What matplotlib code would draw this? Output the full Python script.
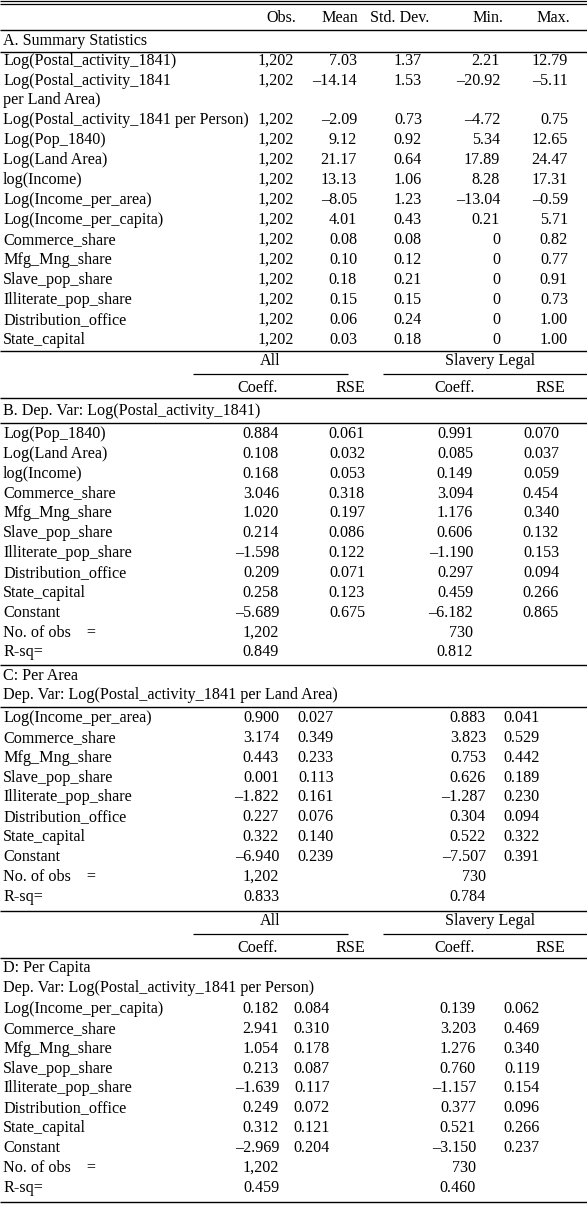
import matplotlib
matplotlib.use("Agg")
import matplotlib.pyplot as plt

W, H = 587, 1207
FS = 11.6
plt.rcParams['font.family'] = ['Liberation Serif', 'DejaVu Serif']

sum_headers = ["Obs.", "Mean", "Std. Dev.", "Min.", "Max."]
sum_labels = ["Log(Postal_activity_1841)", "Log(Postal_activity_1841\nper Land Area)",
              "Log(Postal_activity_1841 per Person)", "Log(Pop_1840)", "Log(Land Area)",
              "log(Income)", "Log(Income_per_area)", "Log(Income_per_capita)", "Commerce_share",
              "Mfg_Mng_share", "Slave_pop_share", "Illiterate_pop_share", "Distribution_office",
              "State_capital"]
sum_obs = ["1,202"] * 14
sum_mean = ["7.03", "–14.14", "–2.09", "9.12", "21.17", "13.13", "–8.05", "4.01", "0.08", "0.10", "0.18", "0.15", "0.06", "0.03"]
sum_sd = ["1.37", "1.53", "0.73", "0.92", "0.64", "1.06", "1.23", "0.43", "0.08", "0.12", "0.21", "0.15", "0.24", "0.18"]
sum_min = ["2.21", "–20.92", "–4.72", "5.34", "17.89", "8.28", "–13.04", "0.21", "0", "0", "0", "0", "0", "0"]
sum_max = ["12.79", "–5.11", "0.75", "12.65", "24.47", "17.31", "–0.59", "5.71", "0.82", "0.77", "0.91", "0.73", "1.00", "1.00"]

b_labels = ["Log(Pop_1840)", "Log(Land Area)", "log(Income)", "Commerce_share", "Mfg_Mng_share",
            "Slave_pop_share", "Illiterate_pop_share", "Distribution_office", "State_capital", "Constant"]
b_all_c = ["0.884", "0.108", "0.168", "3.046", "1.020", "0.214", "–1.598", "0.209", "0.258", "–5.689"]
b_all_r = ["0.061", "0.032", "0.053", "0.318", "0.197", "0.086", "0.122", "0.071", "0.123", "0.675"]
b_sl_c = ["0.991", "0.085", "0.149", "3.094", "1.176", "0.606", "–1.190", "0.297", "0.459", "–6.182"]
b_sl_r = ["0.070", "0.037", "0.059", "0.454", "0.340", "0.132", "0.153", "0.094", "0.266", "0.865"]
b_n = ["1,202", "730"]
b_r2 = ["0.849", "0.812"]

c_labels = ["Log(Income_per_area)", "Commerce_share", "Mfg_Mng_share", "Slave_pop_share",
            "Illiterate_pop_share", "Distribution_office", "State_capital", "Constant"]
c_all_c = ["0.900", "3.174", "0.443", "0.001", "–1.822", "0.227", "0.322", "–6.940"]
c_all_r = ["0.027", "0.349", "0.233", "0.113", "0.161", "0.076", "0.140", "0.239"]
c_sl_c = ["0.883", "3.823", "0.753", "0.626", "–1.287", "0.304", "0.522", "–7.507"]
c_sl_r = ["0.041", "0.529", "0.442", "0.189", "0.230", "0.094", "0.322", "0.391"]
c_n = ["1,202", "730"]
c_r2 = ["0.833", "0.784"]

d_labels = ["Log(Income_per_capita)", "Commerce_share", "Mfg_Mng_share", "Slave_pop_share",
            "Illiterate_pop_share", "Distribution_office", "State_capital", "Constant"]
d_all_c = ["0.182", "2.941", "1.054", "0.213", "–1.639", "0.249", "0.312", "–2.969"]
d_all_r = ["0.084", "0.310", "0.178", "0.087", "0.117", "0.072", "0.121", "0.204"]
d_sl_c = ["0.139", "3.203", "1.276", "0.760", "–1.157", "0.377", "0.521", "–3.150"]
d_sl_r = ["0.062", "0.469", "0.340", "0.119", "0.154", "0.096", "0.266", "0.237"]
d_n = ["1,202", "730"]
d_r2 = ["0.459", "0.460"]

fig = plt.figure(figsize=(W / 100, H / 100), dpi=100)
ax = fig.add_axes([0, 0, 1, 1])
ax.set_xlim(0, W)
ax.set_ylim(H, 0)
ax.axis('off')

def t(x, y, s, ha='left'):
    ax.text(x, y, s, ha=ha, va='center', fontsize=FS, color='black')

def hl(y, x0=0, x1=W, lw=1.0):
    ax.plot([x0, x1], [y, y], color='black', lw=lw, solid_capstyle='butt')

# ---- Section A
hl(1.2, lw=0.9); hl(3.8, lw=0.9)
for h, x in zip(sum_headers, [281, 340, 400, 488, 553]):
    t(x, 18, h, ha='center')
hl(29.5)
t(3, 41, "A. Summary Statistics")
hl(52)
ys = [61, 81, 120, 140, 160, 180, 200, 220, 240, 260, 280, 300, 320, 340]
for i, y in enumerate(ys):
    lab = sum_labels[i]
    if "\n" in lab:
        a, b = lab.split("\n")
        t(3, y, a); t(3, y + 19, b)
    else:
        t(3, y, lab)
    t(294, y, sum_obs[i], 'right')
    t(357, y, sum_mean[i], 'right')
    t(422, y, sum_sd[i], 'right')
    t(500, y, sum_min[i], 'right')
    t(568, y, sum_max[i], 'right')
hl(351)

def group_header(y_top):
    t(270, y_top + 10, "All", 'center')
    t(490, y_top + 10, "Slavery Legal", 'center')
    hl(y_top + 23, 193, 348, lw=0.9)
    hl(y_top + 23, 383, W, lw=0.9)
    t(258, y_top + 37, "Coeff.", 'center')
    t(350, y_top + 37, "RSE", 'center')
    t(455, y_top + 37, "Coeff.", 'center')
    t(550, y_top + 37, "RSE", 'center')
    hl(y_top + 47)

def block(y0, labels, ac, ar, sc, sr, n, r2, xs):
    y = y0
    for i in range(len(labels)):
        t(3, y, labels[i])
        t(xs[0], y, ac[i], 'right')
        t(xs[1], y, ar[i], 'right')
        t(xs[2], y, sc[i], 'right')
        t(xs[3], y, sr[i], 'right')
        y += 19.85
    t(3, y, "No. of obs    ="); t(xs[0], y, n[0], 'right'); t(xs[2], y, n[1], 'right')
    y += 19.85
    t(3, y, "R-sq="); t(xs[0], y, r2[0], 'right'); t(xs[2], y, r2[1], 'right')

# ---- Section B
group_header(351)
t(3, 411, "B. Dep. Var: Log(Postal_activity_1841)")
hl(423)
block(434, b_labels, b_all_c, b_all_r, b_sl_c, b_sl_r, b_n, b_r2, [279, 365, 473, 559])
hl(665)

# ---- Section C
t(3, 676, "C: Per Area")
t(3, 695, "Dep. Var: Log(Postal_activity_1841 per Land Area)")
hl(707)
block(718, c_labels, c_all_c, c_all_r, c_sl_c, c_sl_r, c_n, c_r2, [279, 334, 486, 540])
hl(911)

# ---- Section D
group_header(911)
t(3, 968, "D: Per Capita")
t(3, 988, "Dep. Var: Log(Postal_activity_1841 per Person)")
block(1009, d_labels, d_all_c, d_all_r, d_sl_c, d_sl_r, d_n, d_r2, [279, 330, 476, 540])
hl(1202)

fig.savefig("out.png", dpi=100)
